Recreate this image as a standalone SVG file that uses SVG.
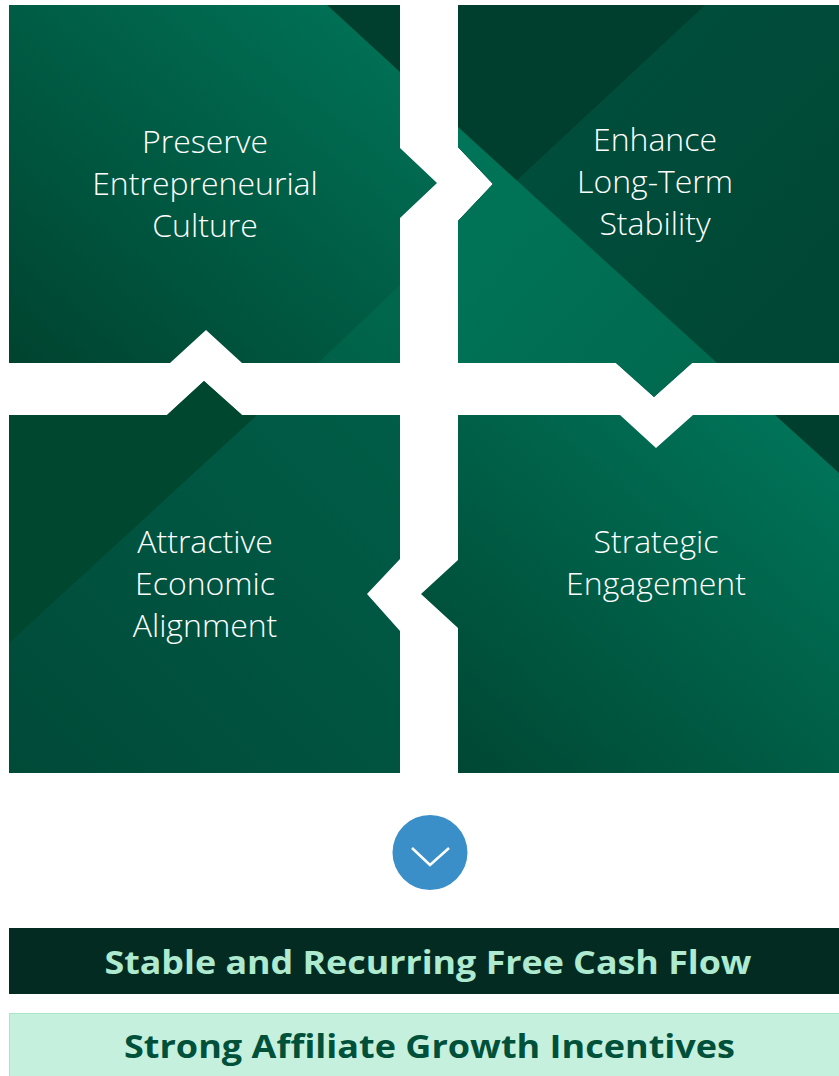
<svg xmlns="http://www.w3.org/2000/svg" width="839" height="1076" viewBox="0 0 839 1076">
  <style>
    .t { font-family: "Open Sans", "Noto Sans", "Liberation Sans", sans-serif; font-weight: 300; font-size: 32px; fill: #ffffff; text-anchor: middle; }
    .b { font-family: "Open Sans", "Noto Sans", "Liberation Sans", sans-serif; font-weight: 700; font-size: 33px; text-anchor: middle; }
  </style>
  <defs>
    <linearGradient id="gTL" x1="1" y1="0" x2="0" y2="1">
      <stop offset="0" stop-color="#00765a"/>
      <stop offset="1" stop-color="#00432f"/>
    </linearGradient>
    <linearGradient id="gTR" x1="0" y1="0" x2="1" y2="1">
      <stop offset="0" stop-color="#00503e"/>
      <stop offset="1" stop-color="#004634"/>
    </linearGradient>
    <linearGradient id="gTRl" x1="0" y1="0" x2="1" y2="1">
      <stop offset="0" stop-color="#00785b"/>
      <stop offset="1" stop-color="#006a4f"/>
    </linearGradient>
    <linearGradient id="gBL" x1="1" y1="0" x2="0" y2="1">
      <stop offset="0" stop-color="#005e48"/>
      <stop offset="1" stop-color="#004a38"/>
    </linearGradient>
    <linearGradient id="gBR" x1="1" y1="0" x2="0" y2="1">
      <stop offset="0" stop-color="#00775b"/>
      <stop offset="1" stop-color="#004531"/>
    </linearGradient>
    <clipPath id="cTR">
      <path d="M458,5 H839 V363 H692 L654,397 L616,363 H458 V221 L493,184 L458,147 Z"/>
    </clipPath>
  </defs>
  <rect width="839" height="1076" fill="#ffffff"/>

  <g id="node-preserve">
    <path d="M9,5 H400 V148 L437,183 L400,218 V363 H242 L206,330 L170,363 H9 Z" fill="url(#gTL)"/>
    <polygon points="327,5 400,5 400,72" fill="#003f2e"/>
    <polygon points="400,285 400,363 318,363" fill="#00785a" fill-opacity="0.35"/>
    <text class="t" x="205" y="153">Preserve</text>
    <text class="t" x="205" y="195">Entrepreneurial</text>
    <text class="t" x="205" y="237">Culture</text>
  </g>

  <g id="node-enhance">
    <g clip-path="url(#cTR)">
      <rect x="458" y="5" width="381" height="392" fill="url(#gTR)"/>
      <polygon points="458,5 705,5 458,235" fill="#003f2e"/>
      <polygon points="458,127 717,363 654,420 458,420" fill="url(#gTRl)" fill-opacity="0.95"/>
    </g>
    <text class="t" x="655" y="151">Enhance</text>
    <text class="t" x="655" y="193">Long-Term</text>
    <text class="t" x="655" y="235">Stability</text>
  </g>

  <g id="node-attractive">
    <path d="M9,415 H167 L204,381 L242,415 H400 V559 L367,594 L400,631 V773 H9 Z" fill="url(#gBL)"/>
    <polygon points="9,415 167,415 204,381 242,415 257,415 9,643" fill="#00472f"/>
    <text class="t" x="205" y="553">Attractive</text>
    <text class="t" x="205" y="595">Economic</text>
    <text class="t" x="205" y="637">Alignment</text>
  </g>

  <g id="node-strategic">
    <path d="M458,415 H620 L656,448 L693,415 H839 V773 H458 V628 L421,594 L458,560 Z" fill="url(#gBR)"/>
    <polygon points="775,415 839,415 839,473" fill="#003f2e"/>
    <text class="t" x="656" y="553">Strategic</text>
    <text class="t" x="656" y="595">Engagement</text>
  </g>

  <g id="connectors">
    <circle cx="430" cy="852.5" r="37.5" fill="#3a8fc9"/>
    <polyline points="412,848 430,865 449,848" fill="none" stroke="#ffffff" stroke-width="2.5"/>
  </g>

  <g id="node-cashflow">
    <rect x="9" y="928" width="830" height="66" fill="#032b22"/>
    <text class="b" x="428" y="974" fill="#aeeacf" textLength="647" lengthAdjust="spacingAndGlyphs">Stable and Recurring Free Cash Flow</text>
  </g>

  <g id="node-incentives">
    <rect x="9.5" y="1013.5" width="830" height="70" fill="#c5f0de" stroke="#a9e5cb" stroke-width="1"/>
    <text class="b" x="429.5" y="1058" fill="#00503a" textLength="611" lengthAdjust="spacingAndGlyphs">Strong Affiliate Growth Incentives</text>
  </g>
</svg>
